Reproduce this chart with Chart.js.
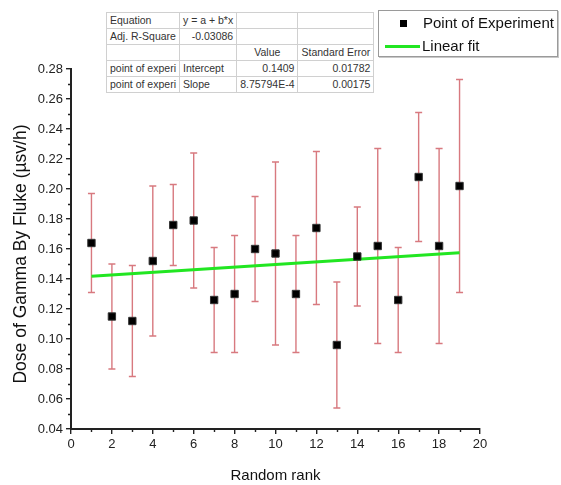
<!DOCTYPE html>
<html>
<head>
<meta charset="utf-8">
<script src="https://cdn.jsdelivr.net/npm/chart.js@4/dist/chart.umd.min.js"></script>
<style>
  html,body{margin:0;padding:0;background:#fff;}
  #wrap{position:relative;width:561px;height:485px;overflow:hidden;font-family:"Liberation Sans",Arial,sans-serif;}
  canvas{position:absolute;left:0;top:0;}
  #tbl{position:absolute;left:106px;top:12px;border-collapse:collapse;font-size:10.5px;color:#333;background:#fff;}
  #tbl td{border:1px solid #d0d0d0;height:15px;padding:0 3px;white-space:nowrap;line-height:15px;}
  #legend{position:absolute;left:378px;top:10px;width:178px;height:45px;border:1px solid #9a9a9a;box-shadow:1px 1px 0 #c8c8c8;background:#fff;font-size:15px;color:#111;}
  .lrow{position:absolute;left:0;height:20px;line-height:20px;}
</style>
</head>
<body>
<div id="wrap">
<canvas id="c" width="561" height="485"></canvas>
<table id="tbl">
  <tr><td style="width:62px">Equation</td><td style="width:48px">y = a + b*x</td><td style="width:53px"></td><td style="width:68px"></td></tr>
  <tr><td>Adj. R-Square</td><td style="text-align:right">-0.03086</td><td></td><td></td></tr>
  <tr><td></td><td></td><td style="text-align:center">Value</td><td style="text-align:center">Standard Error</td></tr>
  <tr><td>point of experi</td><td>Intercept</td><td style="text-align:right">0.1409</td><td style="text-align:right">0.01782</td></tr>
  <tr><td>point of experi</td><td>Slope</td><td style="text-align:right">8.75794E-4</td><td style="text-align:right">0.00175</td></tr>
</table>
<div id="legend">
  <div class="lrow" style="top:2px;width:178px;">
    <span style="position:absolute;left:21px;top:7px;width:7px;height:7px;background:#000;"></span>
    <span style="position:absolute;left:44px;">Point of Experiment</span>
  </div>
  <div class="lrow" style="top:25px;width:178px;">
    <span style="position:absolute;left:6px;top:9px;width:35px;height:3px;background:#22e622;"></span>
    <span style="position:absolute;left:43px;">Linear fit</span>
  </div>
</div>
</div>
<script>
// ---- data ----
const ranks = [1,2,3,4,5,6,7,8,9,10,11,12,13,14,15,16,17,18,19];
const dose  = [0.164,0.115,0.112,0.152,0.176,0.179,0.126,0.130,0.160,0.157,0.130,0.174,0.096,0.155,0.162,0.126,0.208,0.162,0.202];
const errHigh = [0.197,0.150,0.149,0.202,0.203,0.224,0.161,0.169,0.195,0.218,0.169,0.225,0.138,0.188,0.227,0.161,0.251,0.227,0.273];
const errLow  = [0.131,0.080,0.075,0.102,0.149,0.134,0.091,0.091,0.125,0.096,0.091,0.123,0.054,0.122,0.097,0.091,0.165,0.097,0.131];
const fitX = [1,19];
const fitY = [0.1418,0.1575];
const yTicks = [0.04,0.06,0.08,0.10,0.12,0.14,0.16,0.18,0.20,0.22,0.24,0.26,0.28];
const xTicks = [0,2,4,6,8,10,12,14,16,18,20];
const yTitle = 'Dose of Gamma By Fluke (µsv/h)';

const FONT = '"Liberation Sans", Arial, sans-serif';
const ERR_COLOR = '#d8797f';

const errorBars = {
  id:'errorBars',
  beforeDatasetsDraw(chart){
    const {ctx, scales:{x,y}} = chart;
    ctx.save();
    ctx.strokeStyle = ERR_COLOR;
    ctx.lineWidth = 1.4;
    ranks.forEach((r,i)=>{
      const px = x.getPixelForValue(r);
      const ph = y.getPixelForValue(errHigh[i]);
      const pl = y.getPixelForValue(errLow[i]);
      ctx.beginPath();
      ctx.moveTo(px,ph); ctx.lineTo(px,pl);
      ctx.moveTo(px-3.5,ph); ctx.lineTo(px+3.5,ph);
      ctx.moveTo(px-3.5,pl); ctx.lineTo(px+3.5,pl);
      ctx.stroke();
    });
    ctx.restore();
  }
};

const minorTicks = {
  id:'minorTicks',
  afterDraw(chart){
    const {ctx, scales:{x,y}} = chart;
    ctx.save();
    ctx.strokeStyle = '#222';
    ctx.lineWidth = 1.4;
    ctx.beginPath();
    for(let i=0;i<yTicks.length-1;i++){
      const v = (yTicks[i]+yTicks[i+1])/2;
      const py = Math.round(y.getPixelForValue(v))+0.5;
      ctx.moveTo(x.left-3,py); ctx.lineTo(x.left,py);
    }
    for(let i=0;i<xTicks.length-1;i++){
      const v = (xTicks[i]+xTicks[i+1])/2;
      const px = Math.round(x.getPixelForValue(v))+0.5;
      ctx.moveTo(px,y.bottom); ctx.lineTo(px,y.bottom+3);
    }
    ctx.stroke();
    // y axis title
    ctx.fillStyle = '#111';
    ctx.font = '17.5px ' + FONT;
    ctx.textAlign = 'center';
    ctx.textBaseline = 'middle';
    ctx.translate(21.5, (y.top + y.bottom)/2 + 5);
    ctx.rotate(-Math.PI/2);
    ctx.fillText(yTitle, 0, 0);
    ctx.restore();
  }
};

new Chart(document.getElementById('c'), {
  type:'scatter',
  data:{
    datasets:[
      {
        label:'Point of Experiment',
        data: ranks.map((r,i)=>({x:r,y:dose[i]})),
        pointStyle:'rect',
        pointRadius:5.2,
        backgroundColor:'#000',
        borderColor:'#333',
        borderWidth:1,
        showLine:false
      },
      {
        label:'Linear fit',
        type:'line',
        data: fitX.map((v,i)=>({x:v,y:fitY[i]})),
        borderColor:'#22e622',
        borderWidth:3,
        pointRadius:0,
        fill:false
      }
    ]
  },
  options:{
    responsive:false,
    animation:false,
    events:[],
    layout:{padding:{left:0,top:69,right:81,bottom:0}},
    plugins:{legend:{display:false},tooltip:{enabled:false}},
    scales:{
      x:{
        type:'linear', min:0, max:20,
        afterBuildTicks(s){ s.ticks = xTicks.map(v=>({value:v})); },
        afterFit(s){ s.height = 56; },
        border:{color:'#222',width:2},
        grid:{drawOnChartArea:false,drawTicks:true,tickLength:5,color:'#222',lineWidth:1.4},
        ticks:{color:'#222',font:{family:FONT,size:13},padding:3,maxRotation:0,callback:v=>String(v)},
        title:{display:true,text:'Random rank',color:'#111',font:{family:FONT,size:15},padding:{top:1,bottom:0}}
      },
      y:{
        type:'linear', min:0.04, max:0.28,
        afterBuildTicks(s){ s.ticks = yTicks.map(v=>({value:v})); },
        afterFit(s){ s.width = 71; },
        border:{color:'#222',width:2},
        grid:{drawOnChartArea:false,drawTicks:true,tickLength:5,color:'#222',lineWidth:1.4},
        ticks:{color:'#222',font:{family:FONT,size:13},padding:3,callback:v=>Number(v).toFixed(2)},
        title:{display:false}
      }
    }
  },
  plugins:[errorBars,minorTicks]
});
</script>
</body>
</html>
